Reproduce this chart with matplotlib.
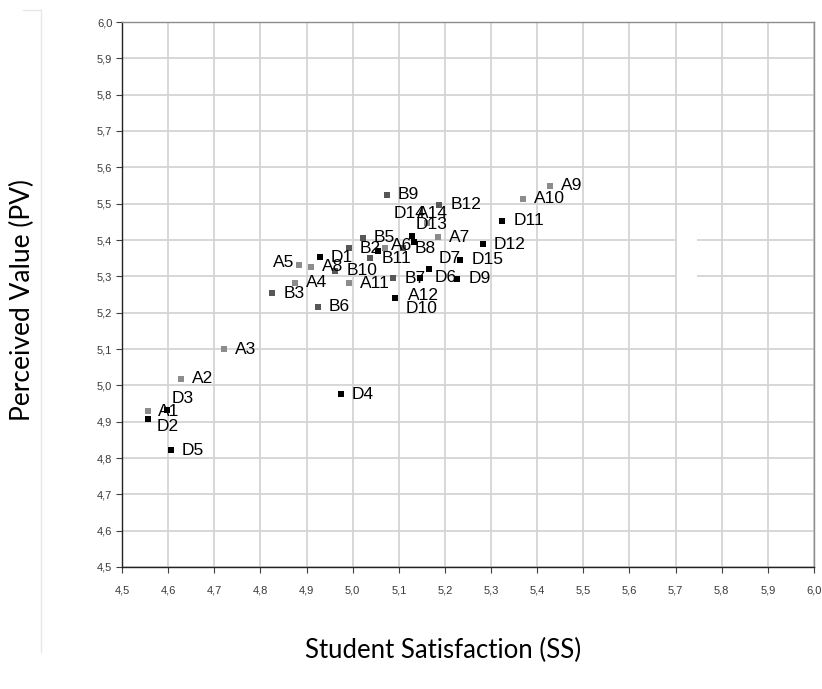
import matplotlib
matplotlib.use('Agg')
import matplotlib.pyplot as plt
from matplotlib.patches import Rectangle
from matplotlib.lines import Line2D
from matplotlib.ticker import FuncFormatter, MultipleLocator

# Group A (light grey)
a_names = ['A1', 'A2', 'A3', 'A4', 'A5', 'A6', 'A7', 'A8', 'A9', 'A10', 'A11', 'A12', 'A14']
a_ss = [4.556, 4.628, 4.722, 4.875, 4.884, 5.070, 5.184, 4.910, 5.428, 5.369, 4.991, 5.092, 5.161]
a_pv = [4.929, 5.018, 5.099, 5.282, 5.331, 5.377, 5.407, 5.326, 5.549, 5.513, 5.281, 5.240, 5.446]

# Group B (dark grey)
b_names = ['B2', 'B3', 'B5', 'B6', 'B7', 'B8', 'B9', 'B10', 'B11', 'B12']
b_ss = [4.991, 4.826, 5.022, 4.924, 5.088, 5.110, 5.074, 4.962, 5.038, 5.188]
b_pv = [5.377, 5.253, 5.406, 5.216, 5.295, 5.379, 5.525, 5.315, 5.350, 5.497]

# Group D (black) - D8 label is hidden in the original
d_names = ['D1', 'D2', 'D3', 'D4', 'D5', 'D6', 'D7', 'D8', 'D9', 'D10',
           'D11', 'D12', 'D13', 'D14', 'D15']
d_ss = [4.929, 4.556, 4.597, 4.974, 4.606, 5.146, 5.166, 5.055, 5.227, 5.092,
        5.324, 5.282, 5.128, 5.132, 5.233]
d_pv = [5.352, 4.906, 4.932, 4.976, 4.822, 5.296, 5.320, 5.371, 5.293, 5.240,
        5.453, 5.388, 5.410, 5.395, 5.345]
hidden_labels = ['D8']

ticks = [4.5, 4.6, 4.7, 4.8, 4.9, 5.0, 5.1, 5.2, 5.3, 5.4, 5.5, 5.6, 5.7, 5.8, 5.9, 6.0]

# label nudges in pixels (dx right, dy down), default is to the right of the marker
default_nudge = (11, 0)
label_nudge = {
    'A1': (10, 0), 'A5': (-5, -3), 'A6': (6, -3), 'A12': (13, -3),
    'A14': (-10, -10), 'B8': (11, 1), 'D2': (9, 7), 'D3': (5, -12),
    'D6': (15, 0), 'D7': (9, -11), 'D10': (11, 10), 'D13': (4, -12),
    'D14': (-20, -28),
}
left_labels = ['A5']

fig = plt.figure(figsize=(8.22, 6.89), dpi=100)
ax = fig.add_axes([122/822, 1 - 567/689, 692/822, 545/689])

ax.set_xlim(4.5, 6.0)
ax.set_ylim(4.5, 6.0)
ax.xaxis.set_major_locator(MultipleLocator(0.1))
ax.yaxis.set_major_locator(MultipleLocator(0.1))
fmt = FuncFormatter(lambda v, _: f'{v:.1f}'.replace('.', ','))
ax.xaxis.set_major_formatter(fmt)
ax.yaxis.set_major_formatter(fmt)
ax.set_xticks(ticks)
ax.set_yticks(ticks)
ax.grid(True, color='#d4d4d4', linewidth=1.3)
ax.set_axisbelow(True)
ax.tick_params(labelsize=8, colors='#404040', length=4, width=0.8,
               labelcolor='#3a3a3a')
for lab in ax.get_xticklabels() + ax.get_yticklabels():
    lab.set_fontfamily('Liberation Sans')
ax.tick_params(axis='x', pad=9)
ax.tick_params(axis='y', pad=3)
ax.spines['left'].set_color('#222222')
ax.spines['bottom'].set_color('#222222')
ax.spines['top'].set_color('#8c8c8c')
ax.spines['right'].set_color('#8c8c8c')
for s in ax.spines.values():
    s.set_linewidth(1.0)

# the blank patch over the grid in the original
ax.add_patch(Rectangle((5.703, 5.23), 0.043, 0.25, facecolor='white',
                       edgecolor='none', zorder=1))

groups = [
    (a_names, a_ss, a_pv, '#8c8c8c'),
    (b_names, b_ss, b_pv, '#575757'),
    (d_names, d_ss, d_pv, '#000000'),
]
for names, xs, ys, col in groups:
    ax.scatter(xs, ys, marker='s', s=22, color=col, linewidths=0, zorder=3)

for names, xs, ys, col in groups:
    for n, x, y in zip(names, xs, ys):
        if n in hidden_labels:
            continue
        dx, dy = label_nudge.get(n, default_nudge)
        ha = 'right' if n in left_labels else 'left'
        ax.annotate(n, (x, y), xytext=(dx, -dy), textcoords='offset pixels',
                    ha=ha, va='center', fontsize=12.5,
                    fontfamily='Liberation Sans', color='black', zorder=4)

fig.text(22/822, 1 - 300/689, 'Perceived Value (PV)', rotation=90,
         ha='center', va='center', fontsize=19, fontfamily='Lato')
fig.text(443/822, 1 - 650/689, 'Student Satisfaction (SS)',
         ha='center', va='center', fontsize=18.5, fontfamily='Lato')

# faint frame left over from the source crop
fig.add_artist(Line2D([41/822, 41/822], [1 - 10/689, 1 - 652/689],
                      color='#e8e8e8', linewidth=1, transform=fig.transFigure))
fig.add_artist(Line2D([23/822, 41/822], [1 - 10/689, 1 - 10/689],
                      color='#e8e8e8', linewidth=1, transform=fig.transFigure))

fig.savefig('out.png', dpi=100)
